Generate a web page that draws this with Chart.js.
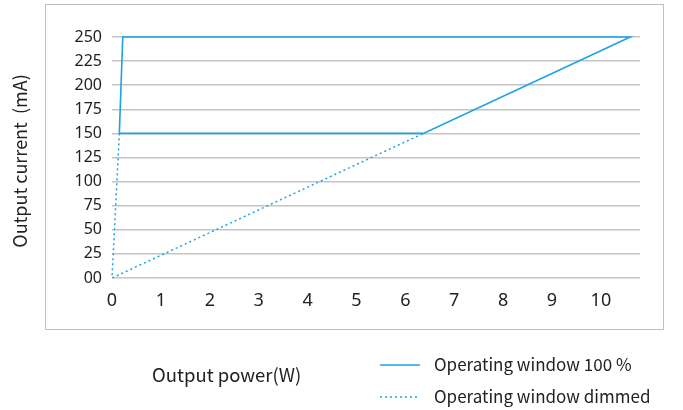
<!DOCTYPE html>
<html><head><meta charset="utf-8">
<script src="https://cdn.jsdelivr.net/npm/chart.js@4"></script>
<style>html,body{margin:0;padding:0;background:#fff}#wrap{width:683px;height:410px;position:relative}</style>
</head><body><div id="wrap"><canvas id="c" width="683" height="410"></canvas></div>
<script>
const xTicks = [0,1,2,3,4,5,6,7,8,9,10];
const yTicks = [0,25,50,75,100,125,150,175,200,225,250];
const fullX = [0.15, 0.22, 10.6, 6.37, 0.15];
const fullY = [150, 250, 250, 150, 150];
const dimX = [0.15, 0, 6.37];
const dimY = [150, 0, 150];
const seriesNames = ['Operating window 100 %', 'Operating window dimmed'];
const xTitle = 'Output power(W)';
const yTitle = 'Output current  (mA)';
const color = '#1ca3e3';

const pts = (xs, ys) => xs.map((x, i) => ({x, y: ys[i]}));

const deco = {
  id: 'deco',
  afterDraw(chart) {
    const ctx = chart.ctx;
    ctx.save();
    ctx.strokeStyle = '#bfbfbf'; ctx.lineWidth = 1;
    ctx.strokeRect(45.5, 4.5, 618, 325);
    ctx.fillStyle = '#222';
    ctx.textBaseline = 'alphabetic';
    ctx.textAlign = 'left';
    ctx.font = '18.5px "Noto Sans CJK SC", "Noto Sans"';
    ctx.fillText(xTitle, 152, 382);
    ctx.font = '17px "Noto Sans CJK SC", "Noto Sans"';
    ctx.fillText(seriesNames[0], 434, 371);
    ctx.fillText(seriesNames[1], 434, 403);
    ctx.strokeStyle = color; ctx.lineWidth = 1.3;
    ctx.beginPath(); ctx.moveTo(380, 365); ctx.lineTo(420, 365); ctx.stroke();
    ctx.setLineDash([2, 3]);
    ctx.beginPath(); ctx.moveTo(380, 397); ctx.lineTo(420, 397); ctx.stroke();
    ctx.setLineDash([]);
    ctx.textBaseline = 'middle';
    ctx.font = '18px "Noto Sans CJK SC", "Noto Sans"';
    ctx.translate(20, 161);
    ctx.rotate(-Math.PI / 2);
    ctx.textAlign = 'center';
    ctx.fillText(yTitle, 0, 0);
    ctx.restore();
  }
};

new Chart(document.getElementById('c'), {
  type: 'scatter',
  data: {
    datasets: [
      {label: seriesNames[0], data: pts(fullX, fullY), showLine: true, borderColor: color, borderWidth: 1.6, pointRadius: 0, fill: false, tension: 0, clip: 6},
      {label: seriesNames[1], data: pts(dimX, dimY), showLine: true, borderColor: color, borderWidth: 1.5, borderDash: [2, 3], pointRadius: 0, fill: false, tension: 0, clip: 6}
    ]
  },
  options: {
    responsive: false, animation: false, devicePixelRatio: 1,
    layout: {padding: {top: 37, right: 43, left: 0, bottom: 0}},
    plugins: {legend: {display: false}, tooltip: {enabled: false}},
    scales: {
      x: {
        type: 'linear', min: 0, max: 10.8,
        afterBuildTicks(s) { s.ticks = xTicks.map(v => ({value: v})); },
        afterFit(s) { s.height = 132; },
        grid: {display: false, drawTicks: false},
        border: {display: false},
        ticks: {color: '#222', font: {family: 'Noto Sans', size: 18}, padding: 12, maxRotation: 0}
      },
      y: {
        min: 0, max: 250,
        afterBuildTicks(s) { s.ticks = yTicks.map(v => ({value: v})); },
        afterFit(s) { s.width = 112; },
        grid: {color: '#c4c4c4', lineWidth: 1.5, drawTicks: false},
        border: {display: false},
        ticks: {color: '#222', font: {family: 'Noto Sans', size: 16}, padding: 10, callback: v => v === 0 ? '00' : String(v)}
      }
    }
  },
  plugins: [deco]
});
</script></body></html>
